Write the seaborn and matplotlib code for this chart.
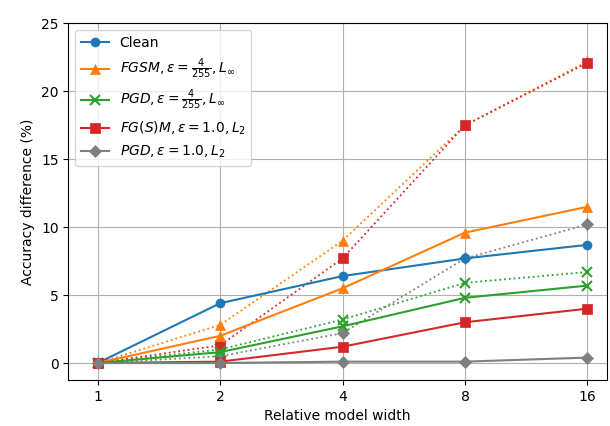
import matplotlib
matplotlib.use("Agg")
import matplotlib.pyplot as plt
import seaborn as sns
import numpy as np

widths = [1, 2, 4, 8, 16]
x_ticklabels = ["1", "2", "4", "8", "16"]

labels = ["Clean",
          r"$FGSM, \epsilon = \frac{4}{255}, L_\infty$",
          r"$PGD, \epsilon = \frac{4}{255}, L_\infty$",
          r"$FG(S)M, \epsilon = 1.0, L_2$",
          r"$PGD, \epsilon = 1.0, L_2$"]

clean_solid = [0.0, 4.4, 6.4, 7.7, 8.7]
fgsm_linf_solid = [0.0, 2.0, 5.5, 9.6, 11.5]
fgsm_linf_dotted = [0.0, 2.8, 9.0, 17.5, 22.2]
pgd_linf_solid = [0.0, 0.8, 2.7, 4.8, 5.7]
pgd_linf_dotted = [0.0, 1.0, 3.2, 5.9, 6.7]
fgm_l2_solid = [0.0, 0.1, 1.2, 3.0, 4.0]
fgm_l2_dotted = [0.0, 1.3, 7.7, 17.5, 22.1]
pgd_l2_solid = [0.0, 0.0, 0.1, 0.1, 0.4]
pgd_l2_dotted = [0.0, 0.5, 2.2, 7.7, 10.2]

colors = ["#1f77b4", "#ff7f0e", "#2ca02c", "#d62728", "#7f7f7f"]
markers = ["o", "^", "x", "s", "D"]

solid = [clean_solid, fgsm_linf_solid, pgd_linf_solid, fgm_l2_solid, pgd_l2_solid]
dotted = [None, fgsm_linf_dotted, pgd_linf_dotted, fgm_l2_dotted, pgd_l2_dotted]

fig, ax = plt.subplots(figsize=(6.1, 4.26), dpi=100)

for i in range(5):
    if dotted[i] is not None:
        sns.lineplot(x=widths, y=dotted[i], ax=ax, color=colors[i], marker=markers[i],
                     linestyle=":", linewidth=1.3, markersize=6.5, markeredgecolor=colors[i],
                     markeredgewidth=1.5 if markers[i] == "x" else 0.5)
for i in range(5):
    sns.lineplot(x=widths, y=solid[i], ax=ax, color=colors[i], marker=markers[i],
                 linestyle="-", linewidth=1.5, markersize=6.5, markeredgecolor=colors[i],
                 markeredgewidth=1.5 if markers[i] == "x" else 0.5, label=labels[i])

ax.set_xscale("log", base=2)
ax.set_xticks(widths)
ax.set_xticklabels(x_ticklabels)
ax.minorticks_off()
ax.set_xlim(2 ** -0.24, 2 ** 4.16)
ax.set_ylim(-1.25, 25)
ax.set_yticks([0, 5, 10, 15, 20, 25])
ax.grid(True, color="#b0b0b0", linewidth=0.8)
ax.set_axisbelow(True)
ax.set_xlabel("Relative model width")
ax.set_ylabel("Accuracy difference (%)")
ax.legend(loc="upper left", fontsize=10)

fig.subplots_adjust(left=0.112, right=0.995, top=0.945, bottom=0.108)
fig.savefig("out.png", dpi=100)
